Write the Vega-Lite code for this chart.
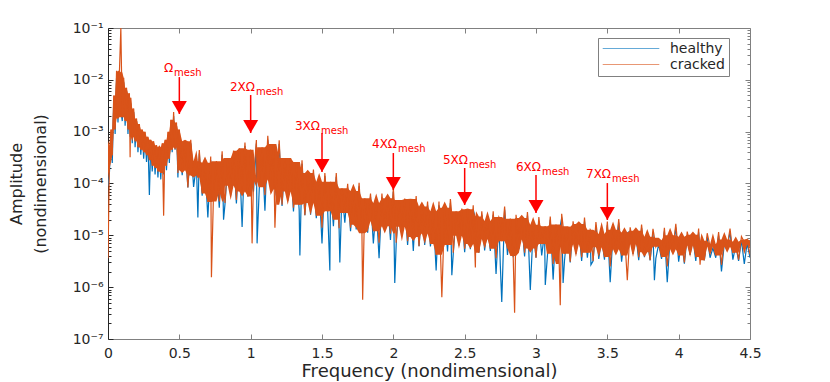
{
  "$schema": "https://vega.github.io/schema/vega-lite/v6.json",
  "width": 642,
  "height": 311,
  "autosize": {"type": "none"},
  "padding": {"left": 108, "top": 28, "right": 80, "bottom": 43},
  "config": {"font": "DejaVu Sans", "view": {"stroke": null}, "axis": {"grid": false}},
  "datasets": {
    "spec": [
      {"f":0,"healthy":9e-5,"cracked":3.6e-6},
      {"f":0.01,"healthy":1.6e-4,"cracked":2.5e-4},
      {"f":0.02,"healthy":8e-4,"cracked":1.1e-3},
      {"f":0.03,"healthy":2.5e-4,"cracked":3.5e-4},
      {"f":0.04,"healthy":4e-3,"cracked":5e-3},
      {"f":0.05,"healthy":9e-4,"cracked":1.1e-3},
      {"f":0.06,"healthy":1.1e-2,"cracked":1.5e-2},
      {"f":0.07,"healthy":1.5e-3,"cracked":1.8e-3},
      {"f":0.08,"healthy":1.2e-2,"cracked":1.4e-2},
      {"f":0.09,"healthy":2.5e-3,"cracked":1e-1},
      {"f":0.1,"healthy":1.6e-3,"cracked":1.9e-3},
      {"f":0.11,"healthy":9e-3,"cracked":1.1e-2},
      {"f":0.12,"healthy":1.3e-3,"cracked":1.6e-3},
      {"f":0.13,"healthy":6e-3,"cracked":7e-3},
      {"f":0.14,"healthy":9e-4,"cracked":1.1e-3},
      {"f":0.15,"healthy":4.5e-3,"cracked":5.5e-3},
      {"f":0.155,"healthy":8e-4,"cracked":3.2e-4},
      {"f":0.16,"healthy":3.5e-3,"cracked":4.5e-3},
      {"f":0.17,"healthy":6e-4,"cracked":8e-4},
      {"f":0.18,"healthy":2.4e-3,"cracked":2.8e-3},
      {"f":0.19,"healthy":5e-4,"cracked":6.5e-4},
      {"f":0.2,"healthy":1.6e-3,"cracked":1.8e-3},
      {"f":0.21,"healthy":4e-4,"cracked":5e-4},
      {"f":0.22,"healthy":1.2e-3,"cracked":1.4e-3},
      {"f":0.23,"healthy":3.6e-4,"cracked":4.5e-4},
      {"f":0.24,"healthy":1e-3,"cracked":1.1e-3},
      {"f":0.25,"healthy":3e-4,"cracked":4e-4},
      {"f":0.26,"healthy":8.5e-4,"cracked":1e-3},
      {"f":0.27,"healthy":2.6e-4,"cracked":3.5e-4},
      {"f":0.28,"healthy":7e-4,"cracked":8e-4},
      {"f":0.29,"healthy":6e-5,"cracked":2.8e-4},
      {"f":0.3,"healthy":6e-4,"cracked":7e-4},
      {"f":0.31,"healthy":1.7e-4,"cracked":2.2e-4},
      {"f":0.32,"healthy":5.5e-4,"cracked":6.5e-4},
      {"f":0.33,"healthy":1.5e-4,"cracked":2e-4},
      {"f":0.34,"healthy":4.8e-4,"cracked":5.5e-4},
      {"f":0.35,"healthy":1.3e-4,"cracked":1.7e-4},
      {"f":0.36,"healthy":4.5e-4,"cracked":5e-4},
      {"f":0.37,"healthy":1.2e-4,"cracked":1.6e-4},
      {"f":0.38,"healthy":5e-4,"cracked":6e-4},
      {"f":0.39,"healthy":1.5e-4,"cracked":2.4e-5},
      {"f":0.4,"healthy":6e-4,"cracked":7e-4},
      {"f":0.41,"healthy":1.8e-4,"cracked":2.2e-4},
      {"f":0.42,"healthy":8.5e-4,"cracked":1e-3},
      {"f":0.43,"healthy":2.5e-4,"cracked":3e-4},
      {"f":0.44,"healthy":1.4e-3,"cracked":1.7e-3},
      {"f":0.45,"healthy":4e-4,"cracked":4.5e-4},
      {"f":0.46,"healthy":2e-3,"cracked":2.4e-3},
      {"f":0.47,"healthy":4.5e-4,"cracked":5e-4},
      {"f":0.48,"healthy":1.3e-3,"cracked":1.5e-3},
      {"f":0.49,"healthy":1.3e-4,"cracked":1.6e-4},
      {"f":0.5,"healthy":9e-4,"cracked":1.1e-3},
      {"f":0.52,"healthy":1.45e-4,"cracked":1.8e-4},
      {"f":0.54,"healthy":5.6e-4,"cracked":6.5e-4},
      {"f":0.56,"healthy":8.4e-5,"cracked":8.4e-5},
      {"f":0.58,"healthy":6e-4,"cracked":7e-4},
      {"f":0.6,"healthy":8.6e-5,"cracked":1.43e-4},
      {"f":0.62,"healthy":2.3e-4,"cracked":2.7e-4},
      {"f":0.63,"healthy":2.2e-5,"cracked":1.3e-4},
      {"f":0.64,"healthy":3.8e-4,"cracked":4.4e-4},
      {"f":0.66,"healthy":5.8e-5,"cracked":6.4e-5},
      {"f":0.68,"healthy":2.2e-4,"cracked":2.5e-4},
      {"f":0.7,"healthy":2.2e-5,"cracked":4.4e-5},
      {"f":0.72,"healthy":2.8e-4,"cracked":3.3e-4},
      {"f":0.725,"healthy":6e-5,"cracked":1.55e-6},
      {"f":0.74,"healthy":7.2e-5,"cracked":7.2e-5},
      {"f":0.76,"healthy":2.3e-4,"cracked":2.7e-4},
      {"f":0.78,"healthy":3.4e-5,"cracked":4.5e-5},
      {"f":0.8,"healthy":3.6e-4,"cracked":4.2e-4},
      {"f":0.81,"healthy":2e-5,"cracked":9e-5},
      {"f":0.82,"healthy":4e-5,"cracked":4.2e-5},
      {"f":0.84,"healthy":2.6e-4,"cracked":3.1e-4},
      {"f":0.86,"healthy":5.9e-5,"cracked":9.1e-5},
      {"f":0.88,"healthy":3.7e-4,"cracked":4.3e-4},
      {"f":0.9,"healthy":4.1e-5,"cracked":4.8e-5},
      {"f":0.92,"healthy":4.1e-4,"cracked":4.8e-4},
      {"f":0.94,"healthy":1.45e-5,"cracked":7e-5},
      {"f":0.96,"healthy":5.3e-4,"cracked":6.2e-4},
      {"f":0.98,"healthy":5.6e-5,"cracked":5.6e-5},
      {"f":1.0,"healthy":3.8e-4,"cracked":4.5e-4},
      {"f":1.01,"healthy":1e-4,"cracked":7e-6},
      {"f":1.02,"healthy":7e-5,"cracked":1.17e-4},
      {"f":1.04,"healthy":5.9e-4,"cracked":6.9e-4},
      {"f":1.045,"healthy":7e-6,"cracked":1.2e-4},
      {"f":1.06,"healthy":7.7e-5,"cracked":8.5e-5},
      {"f":1.08,"healthy":4.3e-4,"cracked":5e-4},
      {"f":1.1,"healthy":3e-5,"cracked":6e-5},
      {"f":1.12,"healthy":7e-4,"cracked":8.3e-4},
      {"f":1.14,"healthy":1.2e-4,"cracked":1.2e-4},
      {"f":1.16,"healthy":4.9e-4,"cracked":5.8e-4},
      {"f":1.17,"healthy":9e-5,"cracked":1.4e-5},
      {"f":1.18,"healthy":5.8e-5,"cracked":7.7e-5},
      {"f":1.2,"healthy":5.8e-4,"cracked":6.8e-4},
      {"f":1.22,"healthy":3.7e-5,"cracked":3.9e-5},
      {"f":1.24,"healthy":2.7e-4,"cracked":3.1e-4},
      {"f":1.26,"healthy":4.6e-5,"cracked":7e-5},
      {"f":1.28,"healthy":2.6e-4,"cracked":3.1e-4},
      {"f":1.3,"healthy":2.9e-5,"cracked":3.4e-5},
      {"f":1.32,"healthy":2.2e-4,"cracked":2.6e-4},
      {"f":1.34,"healthy":3.1e-5,"cracked":3.9e-5},
      {"f":1.345,"healthy":4.1e-6,"cracked":5e-5},
      {"f":1.36,"healthy":2.4e-4,"cracked":2.8e-4},
      {"f":1.38,"healthy":2.45e-5,"cracked":2.45e-5},
      {"f":1.4,"healthy":1.4e-4,"cracked":1.6e-4},
      {"f":1.42,"healthy":2.5e-5,"cracked":4.2e-5},
      {"f":1.44,"healthy":1.6e-4,"cracked":1.85e-4},
      {"f":1.46,"healthy":2.15e-5,"cracked":2.4e-5},
      {"f":1.48,"healthy":9.2e-5,"cracked":1.08e-4},
      {"f":1.5,"healthy":7e-6,"cracked":1.4e-5},
      {"f":1.52,"healthy":1.4e-4,"cracked":1.6e-4},
      {"f":1.54,"healthy":2.9e-5,"cracked":2.9e-5},
      {"f":1.555,"healthy":2.1e-6,"cracked":4e-5},
      {"f":1.56,"healthy":9.2e-5,"cracked":1.08e-4},
      {"f":1.58,"healthy":1.5e-5,"cracked":2e-5},
      {"f":1.6,"healthy":1.35e-4,"cracked":1.6e-4},
      {"f":1.62,"healthy":1.3e-5,"cracked":1.37e-5},
      {"f":1.625,"healthy":3e-6,"cracked":5e-5},
      {"f":1.64,"healthy":6.9e-5,"cracked":8.1e-5},
      {"f":1.66,"healthy":1.75e-5,"cracked":2.7e-5},
      {"f":1.68,"healthy":8.4e-5,"cracked":9.9e-5},
      {"f":1.7,"healthy":1.2e-5,"cracked":1.4e-5},
      {"f":1.72,"healthy":6.1e-5,"cracked":7.2e-5},
      {"f":1.74,"healthy":1.3e-5,"cracked":1.6e-5},
      {"f":1.76,"healthy":8.8e-5,"cracked":1.03e-4},
      {"f":1.78,"healthy":1.1e-5,"cracked":1.1e-5},
      {"f":1.785,"healthy":4e-5,"cracked":5.7e-7},
      {"f":1.8,"healthy":4.4e-5,"cracked":5.2e-5},
      {"f":1.82,"healthy":1.13e-5,"cracked":1.9e-5},
      {"f":1.84,"healthy":5.5e-5,"cracked":6.4e-5},
      {"f":1.86,"healthy":7e-6,"cracked":1.2e-5},
      {"f":1.88,"healthy":3.6e-5,"cracked":4.2e-5},
      {"f":1.9,"healthy":3.6e-6,"cracked":7.2e-6},
      {"f":1.92,"healthy":5.4e-5,"cracked":6.4e-5},
      {"f":1.94,"healthy":1.5e-5,"cracked":1.5e-5},
      {"f":1.96,"healthy":4.4e-5,"cracked":5.2e-5},
      {"f":1.98,"healthy":8.1e-6,"cracked":1.08e-5},
      {"f":2.0,"healthy":6.9e-5,"cracked":8.1e-5},
      {"f":2.01,"healthy":1.2e-6,"cracked":3e-5},
      {"f":2.02,"healthy":6.8e-6,"cracked":7.2e-6},
      {"f":2.04,"healthy":4.1e-5,"cracked":4.8e-5},
      {"f":2.06,"healthy":9.6e-6,"cracked":1.47e-5},
      {"f":2.08,"healthy":4.3e-5,"cracked":5.1e-5},
      {"f":2.1,"healthy":6.5e-6,"cracked":7.7e-6},
      {"f":2.12,"healthy":4.2e-5,"cracked":5e-5},
      {"f":2.14,"healthy":5e-6,"cracked":9.3e-6},
      {"f":2.16,"healthy":4.8e-5,"cracked":5.7e-5},
      {"f":2.18,"healthy":6.2e-6,"cracked":6.2e-6},
      {"f":2.2,"healthy":3.1e-5,"cracked":3.6e-5},
      {"f":2.22,"healthy":6.5e-6,"cracked":1.08e-5},
      {"f":2.24,"healthy":3.8e-5,"cracked":4.5e-5},
      {"f":2.26,"healthy":6.1e-6,"cracked":6.8e-6},
      {"f":2.28,"healthy":2.5e-5,"cracked":2.9e-5},
      {"f":2.3,"healthy":2.1e-6,"cracked":4.2e-6},
      {"f":2.32,"healthy":3.8e-5,"cracked":4.5e-5},
      {"f":2.34,"healthy":2e-5,"cracked":6.4e-7},
      {"f":2.36,"healthy":2.9e-5,"cracked":3.4e-5},
      {"f":2.38,"healthy":4.9e-6,"cracked":6.5e-6},
      {"f":2.4,"healthy":4.2e-5,"cracked":5e-5},
      {"f":2.41,"healthy":1.7e-6,"cracked":2.5e-5},
      {"f":2.42,"healthy":4.4e-6,"cracked":4.6e-6},
      {"f":2.44,"healthy":2.5e-5,"cracked":2.9e-5},
      {"f":2.46,"healthy":6.4e-6,"cracked":9.8e-6},
      {"f":2.48,"healthy":2.8e-5,"cracked":3.3e-5},
      {"f":2.5,"healthy":4.7e-6,"cracked":5.5e-6},
      {"f":2.52,"healthy":2.7e-5,"cracked":3.2e-5},
      {"f":2.54,"healthy":5.4e-6,"cracked":6.8e-6},
      {"f":2.56,"healthy":3.2e-5,"cracked":3.8e-5},
      {"f":2.575,"healthy":2e-5,"cracked":2.4e-6},
      {"f":2.58,"healthy":2e-5,"cracked":2.3e-5},
      {"f":2.6,"healthy":4.6e-6,"cracked":4.6e-6},
      {"f":2.62,"healthy":2.5e-5,"cracked":2.9e-5},
      {"f":2.64,"healthy":5.1e-6,"cracked":8.5e-6},
      {"f":2.66,"healthy":1.6e-5,"cracked":1.9e-5},
      {"f":2.68,"healthy":5e-6,"cracked":5.5e-6},
      {"f":2.7,"healthy":2.5e-5,"cracked":2.9e-5},
      {"f":2.72,"healthy":1.8e-6,"cracked":3.6e-6},
      {"f":2.74,"healthy":1.9e-5,"cracked":2.25e-5},
      {"f":2.75,"healthy":2.6e-6,"cracked":2e-5},
      {"f":2.76,"healthy":5.2e-7,"cracked":7.7e-6},
      {"f":2.78,"healthy":3.1e-5,"cracked":3.6e-5},
      {"f":2.8,"healthy":4.2e-6,"cracked":5.6e-6},
      {"f":2.82,"healthy":1.8e-5,"cracked":2.1e-5},
      {"f":2.84,"healthy":3.8e-6,"cracked":4e-6},
      {"f":2.85,"healthy":1.8e-5,"cracked":3.2e-7},
      {"f":2.86,"healthy":2.1e-5,"cracked":2.5e-5},
      {"f":2.88,"healthy":5.4e-6,"cracked":8.3e-6},
      {"f":2.9,"healthy":1.8e-5,"cracked":2.15e-5},
      {"f":2.92,"healthy":3.9e-6,"cracked":4.6e-6},
      {"f":2.94,"healthy":2.4e-5,"cracked":2.8e-5},
      {"f":2.96,"healthy":8.8e-7,"cracked":5.6e-6},
      {"f":2.98,"healthy":1.36e-5,"cracked":1.6e-5},
      {"f":3.0,"healthy":3.7e-6,"cracked":3.7e-6},
      {"f":3.02,"healthy":1.9e-5,"cracked":2.25e-5},
      {"f":3.04,"healthy":4.1e-6,"cracked":6.8e-6},
      {"f":3.06,"healthy":1.13e-5,"cracked":1.33e-5},
      {"f":3.065,"healthy":1.1e-6,"cracked":1.5e-5},
      {"f":3.08,"healthy":4e-6,"cracked":4.4e-6},
      {"f":3.1,"healthy":2e-5,"cracked":2.3e-5},
      {"f":3.12,"healthy":1.4e-6,"cracked":2.8e-6},
      {"f":3.14,"healthy":1.38e-5,"cracked":1.62e-5},
      {"f":3.16,"healthy":6e-6,"cracked":6e-6},
      {"f":3.17,"healthy":1.5e-5,"cracked":4.5e-7},
      {"f":3.18,"healthy":2.2e-5,"cracked":2.6e-5},
      {"f":3.19,"healthy":1.2e-6,"cracked":1.5e-5},
      {"f":3.2,"healthy":3.3e-6,"cracked":4.4e-6},
      {"f":3.22,"healthy":1.24e-5,"cracked":1.46e-5},
      {"f":3.24,"healthy":3e-6,"cracked":3.1e-6},
      {"f":3.26,"healthy":1.6e-5,"cracked":1.87e-5},
      {"f":3.28,"healthy":4.4e-6,"cracked":6.7e-6},
      {"f":3.3,"healthy":1.4e-5,"cracked":1.65e-5},
      {"f":3.32,"healthy":3.2e-6,"cracked":3.8e-6},
      {"f":3.34,"healthy":1.85e-5,"cracked":2.2e-5},
      {"f":3.36,"healthy":3.7e-6,"cracked":4.6e-6},
      {"f":3.38,"healthy":1.1e-5,"cracked":1.28e-5},
      {"f":3.385,"healthy":2.7e-6,"cracked":1.2e-5},
      {"f":3.4,"healthy":3.2e-6,"cracked":3.2e-6},
      {"f":3.42,"healthy":1.53e-5,"cracked":1.8e-5},
      {"f":3.44,"healthy":3.5e-6,"cracked":5.9e-6},
      {"f":3.46,"healthy":9e-6,"cracked":1.06e-5},
      {"f":3.48,"healthy":3.4e-6,"cracked":3.8e-6},
      {"f":3.5,"healthy":1.56e-5,"cracked":1.84e-5},
      {"f":3.52,"healthy":1.25e-6,"cracked":2.5e-6},
      {"f":3.54,"healthy":1.09e-5,"cracked":1.28e-5},
      {"f":3.56,"healthy":5.4e-6,"cracked":5.4e-6},
      {"f":3.58,"healthy":1.76e-5,"cracked":2.07e-5},
      {"f":3.6,"healthy":3.1e-6,"cracked":4.1e-6},
      {"f":3.62,"healthy":9.7e-6,"cracked":1.14e-5},
      {"f":3.64,"healthy":1.1e-5,"cracked":1.36e-6},
      {"f":3.66,"healthy":1.22e-5,"cracked":1.43e-5},
      {"f":3.68,"healthy":4.4e-6,"cracked":6.7e-6},
      {"f":3.7,"healthy":1.04e-5,"cracked":1.22e-5},
      {"f":3.72,"healthy":3.3e-6,"cracked":3.8e-6},
      {"f":3.74,"healthy":1.38e-5,"cracked":1.62e-5},
      {"f":3.76,"healthy":3.8e-6,"cracked":4.7e-6},
      {"f":3.78,"healthy":8e-6,"cracked":9.4e-6},
      {"f":3.8,"healthy":3.3e-6,"cracked":3.3e-6},
      {"f":3.82,"healthy":1.13e-5,"cracked":1.33e-5},
      {"f":3.83,"healthy":1.36e-6,"cracked":9e-6},
      {"f":3.84,"healthy":3.6e-6,"cracked":6e-6},
      {"f":3.86,"healthy":6.8e-6,"cracked":8e-6},
      {"f":3.88,"healthy":3.5e-6,"cracked":3.8e-6},
      {"f":3.9,"healthy":1.19e-5,"cracked":1.4e-5},
      {"f":3.92,"healthy":1.25e-6,"cracked":2.5e-6},
      {"f":3.94,"healthy":8.6e-6,"cracked":1e-5},
      {"f":3.96,"healthy":5.4e-6,"cracked":5.4e-6},
      {"f":3.98,"healthy":1.42e-5,"cracked":1.67e-5},
      {"f":4.0,"healthy":3.1e-6,"cracked":4.1e-6},
      {"f":4.02,"healthy":8e-6,"cracked":9.4e-6},
      {"f":4.04,"healthy":2.85e-6,"cracked":3e-6},
      {"f":4.06,"healthy":1e-5,"cracked":1.18e-5},
      {"f":4.08,"healthy":4.2e-6,"cracked":6.4e-6},
      {"f":4.1,"healthy":8.8e-6,"cracked":1.03e-5},
      {"f":4.12,"healthy":3.2e-6,"cracked":3.8e-6},
      {"f":4.14,"healthy":1.15e-5,"cracked":1.35e-5},
      {"f":4.15,"healthy":5e-6,"cracked":2.7e-6},
      {"f":4.16,"healthy":6.7e-6,"cracked":7.9e-6},
      {"f":4.18,"healthy":3.3e-6,"cracked":3.3e-6},
      {"f":4.2,"healthy":9.4e-6,"cracked":1.1e-5},
      {"f":4.22,"healthy":3.7e-6,"cracked":6.1e-6},
      {"f":4.24,"healthy":5.7e-6,"cracked":6.7e-6},
      {"f":4.26,"healthy":3.7e-6,"cracked":4.1e-6},
      {"f":4.28,"healthy":9.9e-6,"cracked":1.16e-5},
      {"f":4.3,"healthy":2e-6,"cracked":2.7e-6},
      {"f":4.32,"healthy":7e-6,"cracked":8.3e-6},
      {"f":4.34,"healthy":6e-6,"cracked":6e-6},
      {"f":4.36,"healthy":1.15e-5,"cracked":1.35e-5},
      {"f":4.38,"healthy":3.4e-6,"cracked":4.6e-6},
      {"f":4.4,"healthy":6.4e-6,"cracked":7.5e-6},
      {"f":4.42,"healthy":3.2e-6,"cracked":3.4e-6},
      {"f":4.44,"healthy":8.1e-6,"cracked":9.5e-6},
      {"f":4.46,"healthy":2.8e-6,"cracked":7.4e-6},
      {"f":4.48,"healthy":7.1e-6,"cracked":8.3e-6},
      {"f":4.5,"healthy":3.7e-6,"cracked":4.3e-6}
    ],
    "arrows": [
      {"x":0.5,"top":1.13e-2,"tip":2.19e-3,"lx":0.456,"ly":1.69e-2,"main":"Ω","sub":"mesh"},
      {"x":1.0,"top":5.09e-3,"tip":9.42e-4,"lx":1.03,"ly":7.28e-3,"main":"2XΩ","sub":"mesh"},
      {"x":1.5,"top":9.42e-4,"tip":1.67e-4,"lx":1.486,"ly":1.29e-3,"main":"3XΩ","sub":"mesh"},
      {"x":2.0,"top":3.87e-4,"tip":7.48e-5,"lx":2.026,"ly":5.78e-4,"main":"4XΩ","sub":"mesh"},
      {"x":2.5,"top":1.99e-4,"tip":3.85e-5,"lx":2.523,"ly":2.84e-4,"main":"5XΩ","sub":"mesh"},
      {"x":3.0,"top":1.46e-4,"tip":2.7e-5,"lx":3.035,"ly":2.08e-4,"main":"6XΩ","sub":"mesh"},
      {"x":3.5,"top":1.02e-4,"tip":1.98e-5,"lx":3.526,"ly":1.52e-4,"main":"7XΩ","sub":"mesh"}
    ]
  },
  "layer": [
    {
      "data": {"name": "spec"},
      "transform": [{"fold": ["healthy", "cracked"], "as": ["series", "amp"]}, {"filter": "datum.series === 'healthy'"}],
      "mark": {"type": "line", "strokeWidth": 1.2, "clip": true},
      "encoding": {
        "x": {"field": "f", "type": "quantitative",
          "scale": {"domain": [0, 4.5], "nice": false, "zero": false},
          "axis": {"orient": "bottom", "values": [0,0.5,1,1.5,2,2.5,3,3.5,4,4.5], "format": "~g",
            "title": "Frequency (nondimensional)", "tickSize": -5, "labelPadding": 12,
            "domainColor": "#808080", "tickColor": "#808080", "labelFont": "DejaVu Sans", "labelFontSize": 14,
            "labelColor": "#262626", "titleFont": "DejaVu Sans", "titleFontSize": 18, "titleFontWeight": "normal",
            "titleColor": "#262626", "titlePadding": 2, "labelFlush": false, "labelOverlap": false}},
        "y": {"field": "amp", "type": "quantitative",
          "scale": {"type": "log", "domain": [1e-7, 1e-1], "nice": false},
          "axis": {"orient": "left",
            "values": [1e-7,2e-7,3e-7,4e-7,5e-7,6e-7,7e-7,8e-7,9e-7,1e-6,2e-6,3e-6,4e-6,5e-6,6e-6,7e-6,8e-6,9e-6,1e-5,2e-5,3e-5,4e-5,5e-5,6e-5,7e-5,8e-5,9e-5,1e-4,2e-4,3e-4,4e-4,5e-4,6e-4,7e-4,8e-4,9e-4,1e-3,2e-3,3e-3,4e-3,5e-3,6e-3,7e-3,8e-3,9e-3,1e-2,2e-2,3e-2,4e-2,5e-2,6e-2,7e-2,8e-2,9e-2,1e-1],
            "labelExpr": "abs(log(datum.value)/LN10 - round(log(datum.value)/LN10)) < 0.001 ? '10' + ['⁰','⁻¹','⁻²','⁻³','⁻⁴','⁻⁵','⁻⁶','⁻⁷'][-round(log(datum.value)/LN10)] : ''",
            "tickSize": {"condition": {"test": "abs(log(datum.value)/LN10 - round(log(datum.value)/LN10)) < 0.001", "value": -5}, "value": -3},
            "labelPadding": 10,
            "domainColor": "#262626", "tickColor": "#262626", "labelFont": "DejaVu Sans", "labelFontSize": 14,
            "labelColor": "#262626", "labelFlush": false, "labelOverlap": false,
            "title": ["Amplitude", "(nondimensional)"], "titleFont": "DejaVu Sans", "titleFontSize": 16,
            "titleFontWeight": "normal", "titleColor": "#262626", "titleLineHeight": 24, "titlePadding": 24}},
        "color": {"field": "series", "type": "nominal",
          "scale": {"domain": ["healthy", "cracked"], "range": ["#0072BD", "#D95319"]},
          "legend": {"orient": "none", "legendX": 490, "legendY": 10, "title": null, "symbolType": "stroke",
            "symbolSize": 3200, "symbolStrokeWidth": 1.2, "symbolOpacity": 0.6, "clipHeight": 13, "rowPadding": 1, "padding": 4,
            "labelOffset": 10, "labelFont": "DejaVu Sans", "labelFontSize": 14, "labelColor": "#262626",
            "strokeColor": "#808080", "fillColor": "white", "cornerRadius": 0}}
      }
    },
    {
      "data": {"name": "spec"},
      "transform": [
        {"fold": ["healthy", "cracked"], "as": ["series", "amp"]},
        {"filter": "datum.series === 'cracked'"},
        {"window": [{"op": "q1", "field": "amp", "as": "lo"}, {"op": "q3", "field": "amp", "as": "hi"}], "frame": [-2, 2], "sort": [{"field": "f"}]}
      ],
      "mark": {"type": "area", "color": "#D95319", "opacity": 1, "clip": true},
      "encoding": {
        "x": {"field": "f", "type": "quantitative", "scale": {"domain": [0, 4.5], "nice": false, "zero": false}, "axis": null},
        "y": {"field": "hi", "type": "quantitative", "scale": {"type": "log", "domain": [1e-7, 1e-1], "nice": false}, "axis": null},
        "y2": {"field": "lo"}
      }
    },
    {
      "data": {"name": "spec"},
      "transform": [{"fold": ["healthy", "cracked"], "as": ["series", "amp"]}, {"filter": "datum.series === 'cracked'"}],
      "mark": {"type": "line", "strokeWidth": 1.2, "clip": true},
      "encoding": {
        "x": {"field": "f", "type": "quantitative",
          "scale": {"domain": [0, 4.5], "nice": false, "zero": false},
          "axis": {"orient": "top", "values": [0.5,1,1.5,2,2.5,3,3.5,4], "labels": false, "title": null,
            "tickSize": -5, "domainColor": "#808080", "tickColor": "#808080"}},
        "y": {"field": "amp", "type": "quantitative",
          "scale": {"type": "log", "domain": [1e-7, 1e-1], "nice": false},
          "axis": {"orient": "right", "labels": false, "title": null,
            "values": [1e-7,2e-7,3e-7,4e-7,5e-7,6e-7,7e-7,8e-7,9e-7,1e-6,2e-6,3e-6,4e-6,5e-6,6e-6,7e-6,8e-6,9e-6,1e-5,2e-5,3e-5,4e-5,5e-5,6e-5,7e-5,8e-5,9e-5,1e-4,2e-4,3e-4,4e-4,5e-4,6e-4,7e-4,8e-4,9e-4,1e-3,2e-3,3e-3,4e-3,5e-3,6e-3,7e-3,8e-3,9e-3,1e-2,2e-2,3e-2,4e-2,5e-2,6e-2,7e-2,8e-2,9e-2,1e-1],
            "tickSize": {"condition": {"test": "abs(log(datum.value)/LN10 - round(log(datum.value)/LN10)) < 0.001", "value": -5}, "value": -3},
            "domainColor": "#808080", "tickColor": "#808080"}},
        "color": {"field": "series", "type": "nominal",
          "scale": {"domain": ["healthy", "cracked"], "range": ["#0072BD", "#D95319"]},
          "legend": {"orient": "none", "legendX": 490, "legendY": 10, "title": null, "symbolType": "stroke",
            "symbolSize": 3200, "symbolStrokeWidth": 1.2, "symbolOpacity": 0.6, "clipHeight": 13, "rowPadding": 1, "padding": 4,
            "labelOffset": 10, "labelFont": "DejaVu Sans", "labelFontSize": 14, "labelColor": "#262626",
            "strokeColor": "#808080", "fillColor": "white", "cornerRadius": 0}}
      }
    },
    {
      "data": {"name": "arrows"},
      "mark": {"type": "rule", "color": "#FF0000", "strokeWidth": 1.5},
      "encoding": {
        "x": {"field": "x", "type": "quantitative", "scale": {"domain": [0, 4.5], "nice": false, "zero": false}, "axis": null},
        "y": {"field": "top", "type": "quantitative", "scale": {"type": "log", "domain": [1e-7, 1e-1], "nice": false}, "axis": null},
        "y2": {"field": "tip"}
      }
    },
    {
      "data": {"name": "arrows"},
      "mark": {"type": "point", "shape": "triangle-down", "filled": true, "color": "#FF0000", "size": 225, "opacity": 1, "yOffset": -6.5},
      "encoding": {
        "x": {"field": "x", "type": "quantitative", "scale": {"domain": [0, 4.5], "nice": false, "zero": false}, "axis": null},
        "y": {"field": "tip", "type": "quantitative", "scale": {"type": "log", "domain": [1e-7, 1e-1], "nice": false}, "axis": null}
      }
    },
    {
      "data": {"name": "arrows"},
      "mark": {"type": "text", "align": "right", "baseline": "middle", "font": "DejaVu Sans", "fontSize": 12, "color": "#FF0000"},
      "encoding": {
        "x": {"field": "lx", "type": "quantitative", "scale": {"domain": [0, 4.5], "nice": false, "zero": false}, "axis": null},
        "y": {"field": "ly", "type": "quantitative", "scale": {"type": "log", "domain": [1e-7, 1e-1], "nice": false}, "axis": null},
        "text": {"field": "main"}
      }
    },
    {
      "data": {"name": "arrows"},
      "mark": {"type": "text", "align": "left", "baseline": "middle", "font": "DejaVu Sans", "fontSize": 10, "color": "#FF0000", "dy": 5, "dx": 1},
      "encoding": {
        "x": {"field": "lx", "type": "quantitative", "scale": {"domain": [0, 4.5], "nice": false, "zero": false}, "axis": null},
        "y": {"field": "ly", "type": "quantitative", "scale": {"type": "log", "domain": [1e-7, 1e-1], "nice": false}, "axis": null},
        "text": {"field": "sub"}
      }
    }
  ]
}
